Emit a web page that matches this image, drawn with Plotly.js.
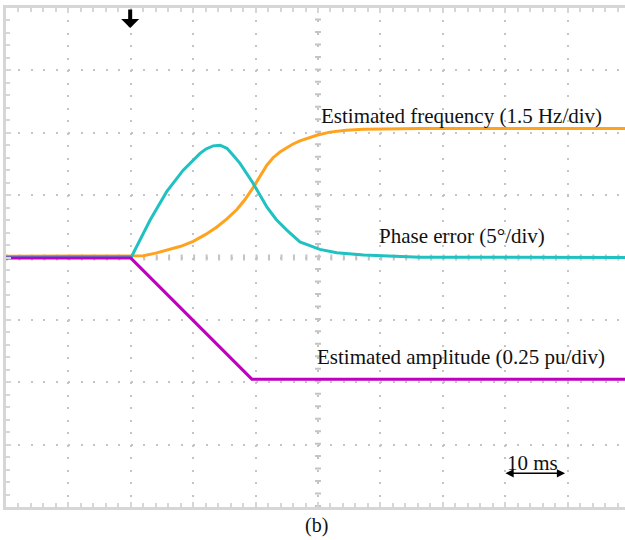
<!DOCTYPE html>
<html>
<head>
<meta charset="utf-8">
<script src="https://cdn.plot.ly/plotly-3.0.1.min.js"></script>
<style>
  html, body { margin: 0; padding: 0; overflow: hidden; background: #ffffff; }
  #chart { width: 632px; height: 540px; }
</style>
</head>
<body>
<div id="chart"></div>
<script>
// time in ms (10 ms/div), values in divisions
const freqTime  = [0, 20, 22, 24, 26, 28, 30, 32, 33.8, 35.4, 37.0, 38.3, 39.6, 40.7, 41.8, 42.8, 43.9, 45.0, 46.0, 47.1, 48.5, 49.8, 51.9, 54.5, 57.2, 66.3, 100];
const freqValue = [0.02, 0.02, 0.03, 0.07, 0.12, 0.18, 0.26, 0.37, 0.49, 0.62, 0.77, 0.93, 1.12, 1.30, 1.48, 1.60, 1.69, 1.76, 1.82, 1.87, 1.92, 1.96, 2.01, 2.04, 2.055, 2.07, 2.07];

const phaseTime  = [0, 20, 20.15, 23.1, 25.75, 28.4, 31.1, 32.05, 33.2, 34.3, 35.4, 36.4, 37.5, 39.6, 41.8, 43.3, 45.0, 47.1, 50.3, 53.0, 57.3, 66.4, 100];
const phaseValue = [0.01, 0.01, 0.02, 0.60, 1.055, 1.40, 1.67, 1.74, 1.79, 1.80, 1.75, 1.64, 1.51, 1.19, 0.81, 0.61, 0.44, 0.25, 0.13, 0.077, 0.04, 0.005, 0.0];

const ampTime  = [0, 20, 39.4, 100];
const ampValue = [-0.01, -0.01, -1.95, -1.95];

const ampMarkerTime  = [-0.3];
const ampMarkerValue = [-1.97];

const labels = {
  freq: 'Estimated frequency (1.5 Hz/div)',
  phase: 'Phase error (5°/div)',
  amp: 'Estimated amplitude (0.25 pu/div)',
  scale: '10 ms',
  caption: '(b)'
};

const ORANGE = '#ffa31f';
const CYAN = '#1fc1c1';
const MAGENTA = '#c000c0';
const GRID = '#c4c4c4';
const FRAME = '#d6d6d6';
const FONT = 'Liberation Serif, Times New Roman, serif';
const TEXT = '#111111';

const traces = [
  { x: freqTime, y: freqValue, mode: 'lines', line: { color: ORANGE, width: 3 }, hoverinfo: 'skip' },
  { x: phaseTime, y: phaseValue, mode: 'lines', line: { color: CYAN, width: 3 }, hoverinfo: 'skip' },
  { x: ampTime, y: ampValue, mode: 'lines', line: { color: MAGENTA, width: 3 }, hoverinfo: 'skip' },
  { x: ampMarkerTime, y: ampMarkerValue, mode: 'markers', marker: { color: MAGENTA, size: 3 }, cliponaxis: false, hoverinfo: 'skip' }
];

const dotDash = '2px,10.475px';

const axisCommon = {
  showgrid: true,
  gridcolor: GRID,
  gridwidth: 2,
  griddash: dotDash,
  zeroline: false,
  showline: true,
  linecolor: FRAME,
  linewidth: 3,
  mirror: 'ticks',
  ticks: 'inside',
  ticklen: 5,
  tickwidth: 2,
  tickcolor: FRAME,
  showticklabels: false,
  fixedrange: true
};

const layout = {
  width: 632,
  height: 540,
  margin: { l: 6, r: 2, t: 8, b: 33 },
  paper_bgcolor: '#ffffff',
  plot_bgcolor: '#ffffff',
  showlegend: false,
  xaxis: Object.assign({}, axisCommon, {
    range: [0, 100], dtick: 10, tick0: 0,
    minor: { dtick: 2, ticks: 'inside', ticklen: 4, tickwidth: 2, tickcolor: FRAME, showgrid: false }
  }),
  yaxis: Object.assign({}, axisCommon, {
    range: [-4, 4], dtick: 1, tick0: 0,
    minor: { dtick: 0.2, ticks: 'inside', ticklen: 4, tickwidth: 2, tickcolor: FRAME, showgrid: false }
  }),
  shapes: [
    { type: 'line', xref: 'x', yref: 'y', x0: 50, x1: 50, y0: -4, y1: 4, layer: 'below',
      line: { color: GRID, width: 6, dash: dotDash } },
    { type: 'line', xref: 'x', yref: 'y', x0: 0, x1: 100, y0: 0, y1: 0, layer: 'below',
      line: { color: GRID, width: 6, dash: dotDash } }
  ],
  annotations: [
    { x: 50.1, y: 2.27, xref: 'x', yref: 'y', text: labels.freq, showarrow: false, xanchor: 'left', yanchor: 'middle',
      font: { family: FONT, size: 21, color: TEXT } },
    { x: 59.4, y: 0.35, xref: 'x', yref: 'y', text: labels.phase, showarrow: false, xanchor: 'left', yanchor: 'middle',
      font: { family: FONT, size: 21, color: TEXT } },
    { x: 49.5, y: -1.595, xref: 'x', yref: 'y', text: labels.amp, showarrow: false, xanchor: 'left', yanchor: 'middle',
      font: { family: FONT, size: 21, color: TEXT } },
    { x: 84.3, y: -3.29, xref: 'x', yref: 'y', text: labels.scale, showarrow: false, xanchor: 'center', yanchor: 'middle',
      font: { family: FONT, size: 21, color: TEXT } },
    { x: 89.6, y: -3.46, ax: 79.8, ay: -3.46, xref: 'x', yref: 'y', axref: 'x', ayref: 'y', text: '',
      showarrow: true, arrowhead: 2, arrowside: 'end+start', arrowsize: 1.1, arrowwidth: 1.5, arrowcolor: '#000000' },
    { x: 19.9, y: 3.68, ax: 19.9, ay: 4.0, xref: 'x', yref: 'y', axref: 'x', ayref: 'y', text: '',
      showarrow: true, arrowhead: 1, arrowsize: 0.75, arrowwidth: 4, arrowcolor: '#000000', standoff: 0 },
    { x: 0.497, y: -0.038, xref: 'paper', yref: 'paper', text: labels.caption, showarrow: false,
      xanchor: 'center', yanchor: 'middle', font: { family: FONT, size: 20, color: TEXT } }
  ]
};

Plotly.newPlot('chart', traces, layout, { displayModeBar: false, staticPlot: true });
</script>
</body>
</html>
